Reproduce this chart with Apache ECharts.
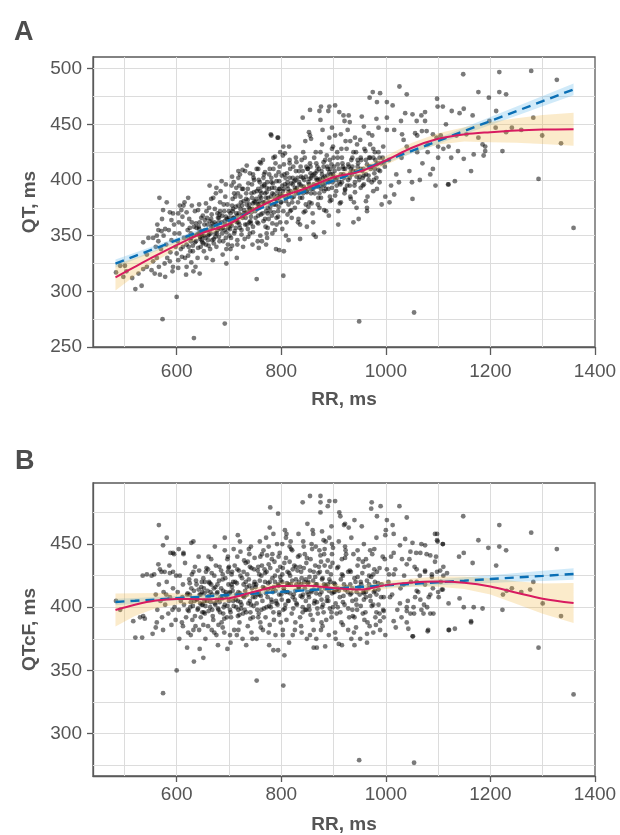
<!DOCTYPE html>
<html><head><meta charset="utf-8">
<script src="https://cdn.jsdelivr.net/npm/echarts@6/dist/echarts.min.js"></script>
<style>html,body{margin:0;padding:0;background:#fff}#c{width:620px;height:835px}</style>
</head><body><div id="c"></div>
<script>
// ---------- tick labels ----------
const xTickLabels = [600, 800, 1000, 1200, 1400];
const yTickLabelsA = [250, 300, 350, 400, 450, 500];
const yTickLabelsB = [300, 350, 400, 450];
const xGridLines = [500, 600, 700, 800, 900, 1000, 1100, 1200, 1300];
const yGridLinesA = [275, 300, 325, 350, 375, 400, 425, 450, 475, 500];
const yGridLinesB = [275, 300, 325, 350, 375, 400, 425, 450, 475];

// ---------- fitted curves (RR grid) ----------
const fitRR = [483, 520, 560, 600, 650, 700, 750, 800, 850, 900, 950, 1000, 1050, 1100, 1150, 1200, 1250, 1300, 1359];
// Panel A: QT
const loessA   = [312.5, 322, 332, 341.5, 352.5, 360.5, 374, 385, 393, 402.5, 407.5, 417.5, 429, 437, 441, 443, 444.5, 445.3, 445.6];
const loessLoA = [300.8, 314, 327, 338, 349.5, 357.5, 371, 382, 390, 399.5, 404, 413.5, 424.5, 432, 434.5, 434, 433.5, 432.3, 430.8];
const loessHiA = [324.2, 330, 337, 345, 355.5, 363.5, 377, 388, 396, 405.5, 411, 421.5, 433.5, 442, 447.5, 452, 455.5, 458.3, 460.4];
const linA     = [325.0, 331.6, 338.7, 345.9, 354.8, 363.7, 372.7, 381.6, 390.5, 399.4, 408.4, 417.3, 426.2, 435.1, 444.1, 453.0, 461.9, 470.8, 481.4];
const linLoA   = [321.5, 328.6, 336.1, 343.7, 352.9, 362.1, 371.2, 380.2, 389.1, 397.9, 406.7, 415.3, 423.9, 432.4, 441.0, 449.4, 457.8, 466.2, 476.2];
const linHiA   = [328.5, 334.6, 341.3, 348.1, 356.7, 365.3, 374.2, 383.0, 391.9, 400.9, 410.1, 419.3, 428.5, 437.8, 447.2, 456.6, 466.0, 475.4, 486.6];
// Panel B: QTcF
const loessB   = [397.8, 402, 405.3, 406.6, 406.4, 407.2, 412.5, 416.8, 417, 415.3, 414, 417.5, 419.5, 420.3, 419.4, 416.5, 411.5, 406.8, 403.3];
const loessLoB = [384.8, 393, 399.3, 402.1, 402.9, 404.2, 409.5, 413.8, 414, 412.3, 411, 414.5, 416.2, 416.3, 414.4, 410, 402.5, 394.8, 387.5];
const loessHiB = [410.8, 411, 411.3, 411.1, 409.9, 410.2, 415.5, 419.8, 420, 418.3, 417, 420.5, 422.8, 424.3, 424.4, 423, 420.5, 418.8, 419.1];
const linB     = [404.2, 405.1, 406.1, 407.2, 408.4, 409.7, 410.9, 412.2, 413.5, 414.7, 416.0, 417.3, 418.5, 419.8, 421.0, 422.3, 423.6, 424.8, 426.3];
const linLoB   = [401.6, 402.8, 404.1, 405.4, 406.8, 408.3, 409.6, 411.0, 412.3, 413.4, 414.5, 415.6, 416.5, 417.5, 418.3, 419.2, 420.1, 420.8, 421.7];
const linHiB   = [406.8, 407.4, 408.1, 409.0, 410.0, 411.1, 412.2, 413.4, 414.7, 416.0, 417.5, 419.0, 420.5, 422.1, 423.7, 425.4, 427.1, 428.8, 430.9];

// ---------- scatter: panel A [RR, QT] ----------
const pointsA = [
[484,317],[492,323],[501,323],[498,313],[504,318],[515,312],[521,302],[533,305],[527,316],[536,320],[543,322],[543,333],[536,344],[546,348],[555,348],[565,355],[571,354],[578,356],[562,350],[567,384],[581,380],[574,373],[587,371],[593,370],[603,370],[590,364],[606,377],[613,377],[562,330],[555,327],[552,319],[558,316],[568,315],[578,313],[593,322],[587,327],[603,321],[618,315],[632,318],[644,316],[619,322],[603,328],[600,334],[610,331],[622,332],
[573,275],[600,295],[633,258],[692,271],[753,311],[804,314],[695,325],[790,338],[796,337],[805,336],
[780,441],[793,438],[781,440],[794,438],
[1026,484],[975,479],[989,478],[1040,477],[969,474],[983,470],[1002,470],[1013,467],[1098,473],[1099,466],[1109,466],[876,466],[892,466],[903,467],[855,463],[873,462],[890,462],[911,461],[919,458],[929,458],[921,453],[931,452],[841,456],[875,454],[954,457],[1037,460],[1051,459],[1068,458],[1075,461],[1029,453],[1059,453],[1075,453],[1002,456],[897,447],[914,441],[853,443],[857,437],[846,435],[967,442],[941,438],[951,436],[932,435],[986,447],[1002,445],[1016,445],[1031,441],[1034,436],[1056,442],[1069,444],[1078,444],[1090,441],[1097,438],
[1148,495],[1217,497],[1278,498],[1327,490],[1177,479],[1197,474],[1217,479],[1230,477],[1141,460],[1149,464],[1166,458],[1211,462],[1198,453],[1282,456],[1126,462],[1154,441],[1177,438],[1185,432],[1190,430],[1190,426],[1168,423],[1187,422],[1149,419],[1138,426],[1163,408],[1120,396],[1132,399],[1210,447],[1230,443],[1241,447],[1259,445],[1299,440],[1335,433],[1223,426],[1292,401],[1359,357],[949,273],[1054,281],
[1119,396],[1007,380],[1016,387],[1051,383],[938,362],[948,365],[964,372],[909,360],[882,353],[866,349],[862,351],[836,347],[814,346],[771,342],[763,345],[757,339],
[1040,430],[1060,425],[1080,432],[1100,420],[1110,428],[1090,410],[1070,415],[1045,408],[1020,405],[1030,420],[1060,440],[1085,405],[1105,440],[1115,450],[1050,398],[1010,395],[1025,398],[1065,400],[1095,395],[1100,430],[1080,425],[1120,430],[1135,440],[1125,420],
[560,340],[565,345],[570,338],[575,350],[580,342],[585,355],[590,346],[595,360],[598,340],[563,360],[572,365],[582,330],[588,335],[596,352],[577,325],[592,318],[566,322],
[602,345],[605,352],[608,338],[611,360],[614,348],[616,330],[619,342],[621,355],[624,365],[626,336],[628,348],[631,341],[633,358],[635,372],[637,345],[640,330],[642,352],[644,362],[646,340],[648,350],[650,368],[652,336],[604,362],[609,373],[615,380],[622,384],[628,326],[636,322],[643,378],[649,344],[612,340],[627,352],[638,357],[645,347],
[654,355],[656,342],[658,366],[660,350],[662,375],[664,338],[666,358],[668,346],[670,384],[672,362],[674,352],[676,340],[678,370],[680,357],[682,345],[684,390],[686,362],[688,333],[690,378],[692,355],[694,348],[696,365],[698,342],[700,372],[657,330],[663,395],[669,328],[675,388],[681,366],[687,352],[693,385],[699,357],[659,360],[671,343],[683,372],[695,338],
[702,360],[704,348],[706,377],[708,366],[710,352],[712,385],[714,370],[716,342],[718,362],[720,395],[722,374],[724,355],[726,366],[728,381],[730,347],[732,370],[734,360],[736,392],[738,375],[740,352],[742,367],[744,384],[746,358],[748,400],[750,372],[703,338],[709,398],[715,330],[721,405],[727,340],[733,388],[739,362],[745,342],[749,380],[707,372],[713,357],[725,377],[737,349],[743,371],
[705,395],[718,402],[731,408],[744,396],[756,410],[765,418],[777,405],[789,415],[798,425],[710,388],[725,392],[718,408],[740,406],[753,410],[769,407],[759,416],[788,421],[804,430],[807,424],[816,418],
[752,383],[754,362],[756,392],[758,375],[760,350],[762,388],[764,370],[766,402],[768,380],[770,358],[772,393],[774,375],[776,365],[778,410],[780,385],[782,368],[784,397],[786,378],[788,355],[790,404],[792,382],[794,372],[796,392],[798,362],[800,380],[755,345],[761,415],[767,395],[773,348],[779,372],[785,420],[791,360],[797,412],[757,378],[769,365],[781,398],[793,390],[759,398],[771,384],[783,352],[795,376],
[802,395],[804,372],[806,405],[808,385],[810,362],[812,398],[814,378],[816,415],[818,390],[820,366],[822,402],[824,385],[826,375],[828,420],[830,393],[832,380],[834,408],[836,360],[838,395],[840,384],[842,425],[844,400],[846,372],[848,390],[850,410],[803,422],[809,350],[815,430],[821,380],[827,400],[833,365],[839,418],[845,392],[849,358],[805,392],[817,372],[829,388],[841,402],[847,378],
[852,398],[854,380],[856,412],[858,392],[860,370],[862,405],[864,388],[866,425],[868,400],[870,378],[872,410],[874,395],[876,384],[878,432],[880,402],[882,390],[884,418],[886,372],[888,404],[890,392],[892,438],[894,410],[896,382],[898,398],[900,420],[855,440],[861,362],[867,415],[873,375],[879,445],[885,398],[891,368],[897,428],[857,402],[869,394],[881,412],[893,385],[899,405],
[902,408],[905,390],[908,420],[911,398],[914,380],[917,415],[920,402],[923,435],[926,395],[929,412],[932,385],[935,405],[938,425],[941,398],[944,375],[947,415],[950,403],[903,440],[909,372],[915,428],[921,388],[927,445],[933,410],[939,380],[945,432],[907,402],[919,410],[931,395],[943,408],
[953,418],[956,395],[959,428],[962,405],[965,385],[968,420],[971,410],[974,440],[977,400],[980,418],[983,392],[986,425],[989,408],[992,378],[995,430],[998,412],[958,448],[964,375],[970,432],[976,390],[982,455],[988,398],[994,420],[999,385],[957,410],[967,400],[979,425],[991,415],
[621,349],[623,340],[625,357],[627,345],[629,362],[631,336],[633,350],[635,344],[637,361],[639,351],[641,339],[643,356],[645,349],[647,366],[649,354],[651,343],[653,360],[655,348],[657,372],[659,355],[661,341],[663,363],[665,352],[667,369],[669,358],[671,347],[673,374],[675,360],[677,352],[679,366],[681,349],[683,380],[685,356],[687,368],[689,345],[691,372],[693,360],[695,353],[697,378],[699,364],
[701,350],[703,370],[705,359],[707,383],[709,366],[711,354],[713,376],[715,362],[717,388],[719,370],[721,357],[723,380],[725,368],[727,392],[729,373],[731,360],[733,383],[735,371],[737,397],[739,378],[741,363],[743,388],[745,374],[747,402],[749,381],[751,366],[753,390],[755,378],[757,400],[759,385],
[761,369],[763,394],[765,380],[767,405],[769,388],[771,372],[773,398],[775,384],[777,392],[779,376],[781,402],[783,388],[785,410],[787,393],[789,378],[791,399],[793,386],[795,407],[797,392],[799,380],
[801,404],[803,390],[805,414],[807,396],[809,381],[811,406],[813,392],[815,386],[817,410],[819,397],[821,384],[823,412],[825,399],[827,391],[829,416],[831,402],[833,388],[835,396],[837,412],[839,390],[841,408],[843,394],[845,420],[847,403],[849,389],
[851,410],[853,396],[855,415],[857,388],[859,404],[861,392],[863,420],[865,406],[867,395],[869,412],[871,400],[873,388],[875,425],[877,408],[879,396],[881,416],[883,403],[885,392],[887,422],[889,410],[891,398],[893,418],[895,405],[897,393],[899,430],
[901,412],[904,400],[907,425],[910,410],[913,396],[916,420],[919,405],[922,392],[925,428],[928,414],[931,402],[934,418],[937,408],[940,395],[943,425],[946,412],[949,400],[952,420],[955,408],[958,396],[961,426],[964,414],[967,404],[970,420],[973,398],[976,428],[979,410],[982,402],[985,415],[988,420],
[772,352],[783,361],[791,366],[802,356],[812,369],[819,373],[832,362],[843,371],[852,376],[858,379],[871,384],[882,373],[893,381],[903,386],[912,379],[922,391],[933,383],[941,389],[952,393],[962,381],[706,341],[716,346],[724,351],[736,356],[746,353],[756,361],[766,363],[774,357],[786,371],[794,367],
[656,379],[666,383],[676,393],[686,399],[694,396],[706,403],[714,393],[726,409],[734,413],[746,405],[641,373],[629,377],[619,371],[611,367],
[642,358],[648,346],[654,364],[662,351],[668,361],[674,349],[682,369],[688,357],[694,367],[702,356],[708,374],[714,364],[722,385],[728,370],[734,378],[742,361],[748,389],[754,374],[762,384],[768,396],[774,370],[782,393],[788,383],[796,399],[802,386],[808,402],[814,389],[822,396],[828,408],[834,398],[842,388],[848,412],[854,401],[862,396],[868,408],[874,401],[882,395],[888,412],[894,400],[902,402],[908,414],[914,405],[922,410],[928,400],[936,412],[944,403],[952,410],[962,418],[972,412],[982,414],
[646,353],[652,350],[666,365],[678,355],[692,363],[706,363],[718,377],[732,366],[746,379],[758,381],[772,389],[786,387],[798,387],[812,395],[826,393],[838,403],[852,392],[866,402],[878,405],[892,407],[906,395],[918,412],[932,406],[946,418],[958,404],[968,412],[978,406],[986,409],[996,416],[1006,418],
[716,368],[736,382],[756,368],[776,380],[796,384],[816,402],[836,384],[856,406],[876,392],[896,414],[916,398],[936,420],[956,402],[976,420],[660,346],[680,362],[700,366],[720,360],[740,374],[760,390]
];

// ---------- scatter: panel B [RR, QTcF] ----------
const pointsB = [
[566,465],[581,455],[574,449],[588,443],[595,442],[521,376],[534,376],[554,379],[560,384],[574,332],[600,350],[633,357],[651,360],[620,368],[644,367],[697,367],[753,342],[804,338],[785,366],[794,366],[806,362],[779,479],[794,474],[778,463],[785,458],[807,461],[810,458],[717,457],[692,455],[628,451],[632,452],[604,446],[593,443],[613,443],[484,405],[492,398],[517,389],[530,392],[539,391],[536,393],[535,425],[543,426],[552,425],[557,426],[565,434],[577,428],[571,428],[587,427],[593,428],
[855,488],[875,488],[841,483],[875,483],[892,484],[903,484],[889,480],[875,475],[911,475],[913,472],[922,466],[929,463],[920,465],[973,483],[990,480],[972,478],[983,472],[1002,469],[1013,465],[1000,461],[999,457],[1015,458],[1026,480],[1040,471],[940,469],[954,464],[850,466],[860,461],[878,460],[896,464],[881,453],[1037,454],[1051,451],[1068,450],[1075,449],[1094,458],[1109,450],[1098,453],[1027,449],[1058,443],[1078,442],[1121,382],[1080,381],[1051,377],[1019,384],[1040,397],[1054,395],[910,371],[940,370],[934,375],[951,375],[964,379],[969,385],[989,389],[996,392],[868,368],[884,369],[862,368],
[1292,368],[1359,331],[949,279],[1054,277],[1120,382],[1132,383],[1163,389],[1081,382],[1043,383],[1052,377],
[1148,472],[1217,465],[1278,459],[1327,446],[1177,453],[1196,447],[1217,448],[1230,445],[1140,440],[1149,443],[1166,435],[1211,433],[1282,420],[1300,403],[1335,393],[1141,407],[1149,400],[1163,388],[1168,400],[1185,399],[1223,398],[1231,413],[1241,415],[1259,412],[1276,414],[1224,410],
[1098,458],[1099,452],[1109,450],[1104,429],[1094,436],[1110,432],[1117,427],[1120,403],[1101,408],[1109,414],[1091,395],[1079,400],[1066,406],[1073,402],[1056,408],[1047,395],[1040,400],[1059,420],[1075,429],[1085,441],[1066,443],[1047,444],[1088,424],
[1015,443],[1031,438],[1040,434],[1059,430],[1075,428],[1088,426],[1098,428],[1110,425],[1015,426],[1002,430],[1034,418],[1059,413],[1085,410],[1107,414],[1008,408],[1027,403],[1053,400],[1072,395],[1040,388],[1015,389],[996,397],
[560,410],[563,398],[566,418],[569,405],[572,392],[575,412],[578,402],[581,420],[584,395],[587,408],[590,386],[593,415],[596,400],[599,425],[562,388],[568,430],[574,382],[580,410],[586,433],[592,398],[598,390],
[602,412],[604,398],[606,425],[608,405],[610,388],[612,418],[614,402],[616,435],[618,392],[620,410],[622,380],[624,422],[626,400],[628,415],[630,390],[632,428],[634,405],[636,385],[638,418],[640,398],[642,440],[644,410],[646,392],[648,420],[650,402],[605,375],[613,442],[621,398],[627,378],[635,432],[643,382],[649,412],[611,408],[625,410],[639,406],
[652,415],[654,395],[656,428],[658,405],[660,385],[662,420],[664,400],[666,438],[668,410],[670,390],[672,425],[674,402],[676,378],[678,418],[680,398],[682,432],[684,408],[686,388],[688,422],[690,400],[692,445],[694,412],[696,392],[698,428],[700,405],[655,375],[661,440],[667,382],[673,448],[679,370],[685,415],[691,380],[697,438],[653,405],[665,412],[677,406],[689,395],[699,418],
[702,412],[704,392],[706,428],[708,405],[710,382],[712,420],[714,400],[716,440],[718,412],[720,388],[722,425],[724,402],[726,375],[728,418],[730,398],[732,435],[734,410],[736,385],[738,422],[740,405],[742,448],[744,415],[746,392],[748,430],[750,408],[703,372],[709,446],[715,378],[721,452],[727,395],[733,370],[739,442],[745,375],[705,418],[717,405],[729,408],[741,396],[749,420],
[752,418],[754,398],[756,432],[758,410],[760,388],[762,425],[764,405],[766,445],[768,415],[770,392],[772,428],[774,408],[776,380],[778,420],[780,400],[782,438],[784,412],[786,390],[788,425],[790,405],[792,450],[794,418],[796,396],[798,432],[800,410],[753,375],[759,452],[765,382],[771,455],[777,370],[783,442],[789,378],[795,440],[757,412],[769,420],[781,415],[793,402],[799,388],
[802,420],[804,398],[806,435],[808,412],[810,390],[812,428],[814,405],[816,448],[818,418],[820,395],[822,430],[824,410],[826,382],[828,422],[830,402],[832,440],[834,415],[836,392],[838,428],[840,408],[842,452],[844,420],[846,398],[848,435],[850,412],[803,378],[809,455],[815,372],[821,445],[827,388],[833,458],[839,380],[845,442],[849,375],[805,415],[817,425],[829,418],[841,400],[847,422],
[852,420],[854,398],[856,438],[858,412],[860,390],[862,428],[864,405],[866,448],[868,418],[870,395],[872,432],[874,410],[876,382],[878,422],[880,402],[882,442],[884,415],[886,390],[888,428],[890,405],[892,455],[894,420],[896,396],[898,435],[900,412],[855,378],[861,458],[867,375],[873,445],[879,385],[885,452],[891,378],[897,442],[853,408],[865,424],[877,412],[889,418],[899,400],
[903,418],[906,395],[909,432],[912,408],[915,388],[918,425],[921,402],[924,442],[927,412],[930,392],[933,428],[936,405],[939,380],[942,420],[945,398],[948,438],[950,410],[904,375],[910,452],[916,370],[922,448],[928,382],[934,455],[940,392],[946,445],[908,415],[920,418],[932,410],[944,412],
[953,418],[956,395],[959,432],[962,408],[965,388],[968,425],[971,405],[974,442],[977,412],[980,392],[983,428],[986,402],[989,382],[992,418],[995,398],[998,438],[958,450],[964,372],[970,445],[976,380],[982,455],[988,395],[994,440],[999,378],[957,412],[967,415],[979,420],[991,408],
[1005,420],[1012,410],[1018,430],[1022,398],[1028,415],[1035,425],[1042,405],[1048,420],[1055,432],[1062,412],[1068,398],[1075,418],[1082,408],[1090,415],[1096,440],[1105,420],[1010,440],[1030,392],[1045,438],[1065,425],[1085,395],[1100,412],
[621,411],[623,397],[625,419],[627,404],[629,426],[631,401],[633,413],[635,393],[637,421],[639,407],[641,399],[643,429],[645,403],[647,416],[649,396],[651,423],[653,411],[655,401],[657,431],[659,413],[661,397],[663,419],[665,404],[667,427],[669,393],[671,415],[673,403],[675,433],[677,411],[679,399],[681,421],[683,396],[685,429],[687,407],[689,413],[691,391],[693,423],[695,409],[697,401],[699,431],
[701,411],[703,396],[705,426],[707,413],[709,401],[711,433],[713,406],[715,419],[717,393],[719,429],[721,411],[723,399],[725,423],[727,409],[729,437],[731,413],[733,396],[735,426],[737,403],[739,417],[741,391],[743,431],[745,411],[747,401],[749,439],[751,416],[753,403],[755,429],[757,395],[759,421],
[761,409],[763,433],[765,416],[767,399],[769,427],[771,411],[773,441],[775,419],[777,401],[779,431],[781,406],[783,423],[785,396],[787,436],[789,413],[791,403],[793,429],[795,417],[797,443],[799,421],
[801,406],[803,431],[805,413],[807,399],[809,439],[811,419],[813,405],[815,427],[817,411],[819,446],[821,421],[823,399],[825,433],[827,413],[829,403],[831,429],[833,416],[835,441],[837,409],[839,423],[841,396],[843,431],[845,415],[847,405],[849,439],
[851,419],[853,401],[855,429],[857,413],[859,446],[861,421],[863,403],[865,433],[867,411],[869,399],[871,427],[873,415],[875,441],[877,406],[879,423],[881,396],[883,433],[885,417],[887,405],[889,437],[891,413],[893,399],[895,426],[897,411],[899,447],
[901,419],[904,403],[907,431],[910,413],[913,396],[916,426],[919,409],[922,439],[925,416],[928,399],[931,429],[934,411],[937,393],[940,423],[943,406],[946,433],[949,416],[952,401],[955,427],[958,411],[961,396],[964,421],[967,433],[970,409],[973,401],[976,426],[979,413],[982,396],[985,419],[988,431],
[702,378],[718,382],[743,380],[761,384],[778,386],[803,382],[822,378],[838,385],[862,382],[877,388],[903,380],[918,386],[943,384],[959,390],[981,386],[651,386],[672,380],[688,384],[612,385],[632,382],
[698,440],[722,444],[738,446],[763,442],[776,448],[802,450],[818,452],[843,448],[858,450],[883,446],[897,450],[923,445],[938,442],[962,438],[978,446],
[642,414],[648,402],[654,420],[662,409],[668,398],[674,416],[682,404],[688,426],[694,410],[702,398],[708,420],[714,410],[722,404],[728,428],[734,416],[742,402],[748,418],[754,410],[762,398],[768,430],[774,414],[782,404],[788,420],[796,410],[802,426],[808,402],[814,418],[822,408],[828,432],[834,420],[842,410],[848,398],[854,424],[862,414],[868,404],[874,428],[882,418],[888,408],[894,432],[902,412],[908,400],[914,422],[922,414],[928,428],[936,415],[944,402],[952,420],[962,412],[972,424],[982,410],
[646,410],[652,396],[666,418],[678,412],[692,402],[706,416],[718,398],[732,420],[746,408],[758,426],[772,400],[786,416],[798,424],[812,412],[826,406],[838,418],[852,410],[866,418],[878,400],[892,422],[906,414],[918,404],[932,418],[946,424],[958,406],[968,418],[978,430],[986,414],[996,408],[1006,426],
[716,430],[736,436],[756,392],[776,434],[796,394],[816,436],[836,432],[856,394],[876,436],[896,392],[916,438],[936,398],[956,436],[976,402],[660,430],[680,386],[700,432],[720,394],[740,432],[760,440]
];

// ---------- chart ----------
const FONT = '"Liberation Sans", Arial, sans-serif';
const TXT = '#555555';
const AX = '#5a5a5a';
const GRIDC = '#dcdcdc';
const RED = '#d81b60';
const BLUE = '#0a6fb5';

const chart = echarts.init(document.getElementById('c'), null, {renderer: 'canvas'});

function xAxisDef(gi, margin, nameGap, tickLen) {
  return {
    type: 'value', gridIndex: gi, min: 440, max: 1400,
    name: 'RR, ms', nameLocation: 'middle', nameGap: nameGap,
    nameTextStyle: {fontFamily: FONT, fontSize: 19, fontWeight: 'bold', color: TXT},
    axisLine: {show: true, onZero: false, lineStyle: {color: AX, width: 1.3}},
    axisTick: {show: true, length: tickLen, lineStyle: {color: AX, width: 1.3}, customValues: xTickLabels},
    axisLabel: {fontFamily: FONT, fontSize: 19, color: TXT, margin: margin, customValues: xTickLabels,
      formatter: v => String(v)},
    splitLine: {show: false}
  };
}
function yAxisDef(gi, min, max, labels, name) {
  return {
    type: 'value', gridIndex: gi, min: min, max: max,
    name: name, nameLocation: 'middle', nameGap: 54, nameRotate: 90,
    nameTextStyle: {fontFamily: FONT, fontSize: 19, fontWeight: 'bold', color: TXT},
    axisLine: {show: true, onZero: false, lineStyle: {color: AX, width: 1.3}},
    axisTick: {show: true, length: 6, lineStyle: {color: AX, width: 1.3}, customValues: labels},
    axisLabel: {fontFamily: FONT, fontSize: 19, color: TXT, margin: 11, customValues: labels,
      formatter: v => String(v)},
    splitLine: {show: false}
  };
}
function gridLinesSeries(gi, yLines) {
  const data = xGridLines.map(v => ({xAxis: v})).concat(yLines.map(v => ({yAxis: v})));
  return {
    type: 'line', xAxisIndex: gi, yAxisIndex: gi, data: [], z: 1, silent: true,
    markLine: {silent: true, z: 1, symbol: ['none', 'none'], label: {show: false},
      lineStyle: {color: GRIDC, width: 1, type: 'solid'}, emphasis: {disabled: true}, animation: false, data: data}
  };
}
function bandSeries(gi, lo, hi, color, opacity) {
  return {
    type: 'custom', xAxisIndex: gi, yAxisIndex: gi, z: 4, silent: true,
    data: fitRR.map((r, i) => [r, lo[i], hi[i]]),
    encode: {x: 0, y: [1, 2]},
    renderItem: function (params, api) {
      if (params.dataIndex !== 0) return null;
      const pts = [];
      for (let i = 0; i < fitRR.length; i++) pts.push(api.coord([fitRR[i], hi[i]]));
      for (let i = fitRR.length - 1; i >= 0; i--) pts.push(api.coord([fitRR[i], lo[i]]));
      return {type: 'polygon', shape: {points: pts}, style: {fill: color, opacity: opacity}};
    }
  };
}
function scatterSeries(gi, pts) {
  return {type: 'scatter', xAxisIndex: gi, yAxisIndex: gi, z: 3, data: pts, symbolSize: 4.8,
    itemStyle: {color: '#000000', opacity: 0.52}, silent: true};
}
function lineSeries(gi, ys, color, width, dash, z) {
  return {type: 'line', xAxisIndex: gi, yAxisIndex: gi, z: z, showSymbol: false, silent: true,
    smooth: dash ? false : 0.35,
    data: fitRR.map((r, i) => [r, ys[i]]),
    lineStyle: {color: color, width: width, type: dash ? [9, 6] : 'solid'}};
}

chart.setOption({
  animation: false,
  backgroundColor: '#ffffff',
  grid: [
    {left: 93, top: 57, width: 502, height: 290, show: true, borderColor: AX, borderWidth: 1.3, backgroundColor: 'transparent'},
    {left: 93, top: 483, width: 502, height: 293, show: true, borderColor: AX, borderWidth: 1.3, backgroundColor: 'transparent'}
  ],
  xAxis: [xAxisDef(0, 15, 43, 8), xAxisDef(1, 9, 39, 6)],
  yAxis: [yAxisDef(0, 250, 510.5, yTickLabelsA, 'QT, ms'), yAxisDef(1, 266.5, 498.3, yTickLabelsB, 'QTcF, ms')],
  graphic: [
    {type: 'text', left: 14, top: 19, style: {text: 'A', fontFamily: FONT, fontSize: 27, fontWeight: 'bold', fill: '#4d4d4d'}},
    {type: 'text', left: 15, top: 448, style: {text: 'B', fontFamily: FONT, fontSize: 27, fontWeight: 'bold', fill: '#4d4d4d'}}
  ],
  series: [
    gridLinesSeries(0, yGridLinesA),
    gridLinesSeries(1, yGridLinesB),
    scatterSeries(0, pointsA),
    scatterSeries(1, pointsB),
    bandSeries(0, linLoA, linHiA, '#56B4E9', 0.28),
    bandSeries(0, loessLoA, loessHiA, '#F0B030', 0.25),
    bandSeries(1, linLoB, linHiB, '#56B4E9', 0.28),
    bandSeries(1, loessLoB, loessHiB, '#F0B030', 0.25),
    lineSeries(0, linA, BLUE, 2.4, true, 6),
    lineSeries(0, loessA, RED, 2, false, 7),
    lineSeries(1, linB, BLUE, 2.4, true, 6),
    lineSeries(1, loessB, RED, 2, false, 7)
  ]
});
</script></body></html>
